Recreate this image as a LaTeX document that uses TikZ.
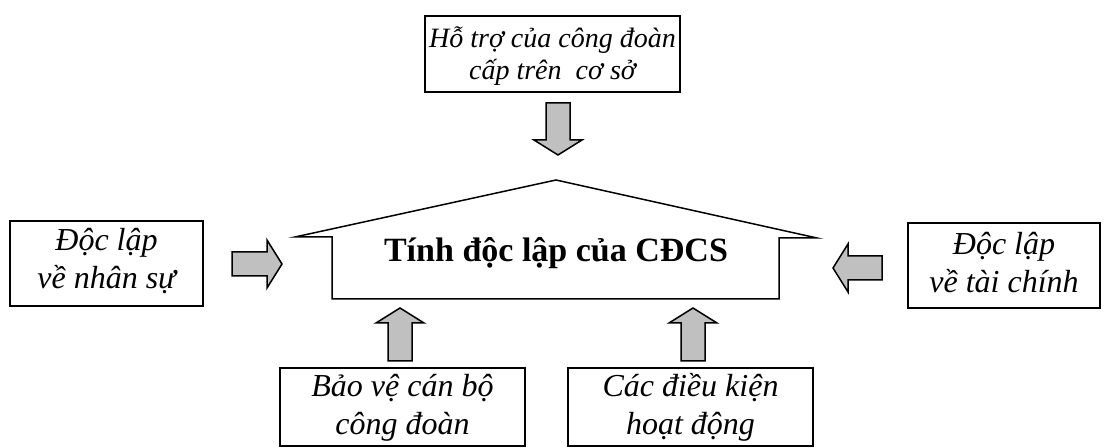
\documentclass[tikz,border=0pt]{standalone}
\usepackage{fontspec}
\setmainfont{Liberation Serif}
% two centred lines at fixed line pitch, optionally nudged vertically
\newcommand\twolines[2][0pt]{%
  \raisebox{#1}[\height][\depth]{\begin{tabular}{@{}c@{}}#2\end{tabular}}}
\begin{document}
\begin{tikzpicture}[x=0.5pt,y=-0.5pt,
  box/.style={draw=black,line width=1pt,inner sep=0pt,
    font=\itshape\fontsize{16}{19}\selectfont},
  topbox/.style={box,font=\itshape\fontsize{14}{16}\selectfont},
  house/.style={draw=black,line width=0.75pt,line join=miter},
  maintext/.style={font=\bfseries\fontsize{17}{20}\selectfont,inner sep=0pt},
  arrowbody/.style={draw=black,line width=0.75pt,fill=arrowgray,line join=miter},
  blockarrow/.pic={
    \path[arrowbody] (0,-12) -- (#1-15,-12) -- (#1-15,-24) -- (#1,0)
      -- (#1-15,24) -- (#1-15,12) -- (0,12) -- cycle;
  }]
\definecolor{arrowgray}{RGB}{192,192,192}
\useasboundingbox (0,0) rectangle (1104,448);

% outer boxes
\node[topbox,minimum width=127.5pt,minimum height=38pt] (support) at (552.5,54)
  {\twolines[-1.8pt]{Hỗ trợ của công đoàn\\cấp trên\ \ cơ sở}};
\node[box,minimum width=96.5pt,minimum height=42.5pt] (staff) at (106.5,263.5)
  {\twolines[1pt]{Độc lập\\về nhân sự}};
\node[box,minimum width=96pt,minimum height=42.5pt] (finance) at (1004,265.5)
  {\twolines{Độc lập\\về tài chính}};
\node[box,minimum width=122.5pt,minimum height=39pt] (protect) at (402.5,407)
  {\twolines[-0.7pt]{Bảo vệ cán bộ\\công đoàn}};
\node[box,minimum width=122.5pt,minimum height=39pt] (conditions) at (690.5,407)
  {\twolines[-0.7pt]{Các điều kiện\\hoạt động}};

% central house
\path[house] (295,237) -- (556,180) -- (817,238) -- (779,238) -- (779,299)
  -- (332,299) -- (332,237) -- cycle;
\node[maintext,anchor=base] (core) at (556,262) {Tính độc lập của CĐCS};

% block arrows pointing at the house
\coordinate (fromSupport) at (558,103);
\coordinate (fromStaff) at (232,264);
\coordinate (fromFinance) at (882,268);
\coordinate (fromProtect) at (400,361);
\coordinate (fromConditions) at (693,361);
\pic[rotate=-90] at (fromSupport) {blockarrow=52};
\pic at (fromStaff) {blockarrow=50};
\pic[rotate=180] at (fromFinance) {blockarrow=49};
\pic[rotate=90] at (fromProtect) {blockarrow=53};
\pic[rotate=90] at (fromConditions) {blockarrow=53};
\end{tikzpicture}
\end{document}
